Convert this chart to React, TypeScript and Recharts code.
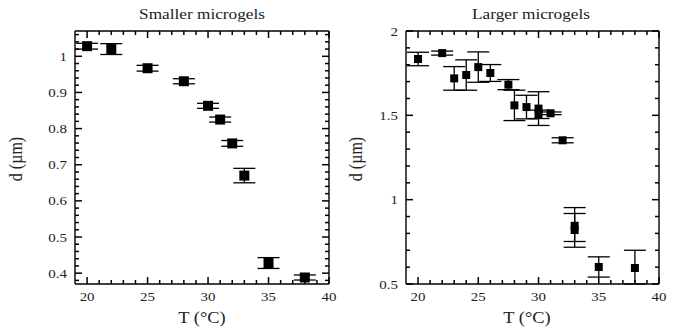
import React from "react";
import { ScatterChart, Scatter, XAxis, YAxis, ErrorBar } from "recharts";

// smaller microgels
const smallT = [20, 22, 25, 28, 30, 31, 32, 33, 35, 38];
const smallD = [1.028, 1.02, 0.967, 0.931, 0.863, 0.825, 0.759, 0.67, 0.428, 0.388];
const smallErr = [0.008, 0.015, 0.008, 0.007, 0.007, 0.007, 0.008, 0.02, 0.015, 0.007];

// larger microgels (two runs at 30 and 33 °C)
const largeT = [20, 22, 23, 24, 25, 26, 27.5, 28, 29, 30, 30, 31, 32, 33, 33, 35, 38];
const largeD = [1.834, 1.869, 1.719, 1.739, 1.786, 1.751, 1.682, 1.559, 1.549, 1.54, 1.506, 1.512, 1.352, 0.845, 0.82, 0.601, 0.595];
const largeErrLow = [0.04, 0.012, 0.07, 0.09, 0.09, 0.05, 0.03, 0.09, 0.07, 0.1, 0.025, 0.008, 0.015, 0.127, 0.068, 0.06, 0.095];
const largeErrHigh = [0.04, 0.012, 0.07, 0.09, 0.09, 0.05, 0.03, 0.09, 0.07, 0.1, 0.025, 0.008, 0.015, 0.108, 0.098, 0.06, 0.105];

const xMajor = [20, 25, 30, 35, 40];
const smallYMajor = [0.4, 0.5, 0.6, 0.7, 0.8, 0.9, 1];
const largeYMajor = [0.5, 1, 1.5, 2];

const steps = (a: number, b: number, s: number) => {
  const out: number[] = [];
  for (let v = a; v <= b + 1e-9; v += s) out.push(Math.round(v * 1000) / 1000);
  return out;
};
const xMinor = steps(20, 40, 1);
const smallYMinor = steps(0.38, 1.06, 0.02);
const largeYMinor = steps(0.5, 2, 0.1);

const smallData = smallT.map((t, i) => ({ t, d: smallD[i], err: smallErr[i] }));
const largeData = largeT.map((t, i) => ({ t, d: largeD[i], err: [largeErrLow[i], largeErrHigh[i]] }));

const FONT = "'Liberation Serif', 'Times New Roman', serif";
const SX = 1.15;

const isMajor = (v: number, majors: number[]) => majors.some((m) => Math.abs(m - v) < 1e-6);

// inward tick marks, long for majors; labels only on bottom/left majors
const makeTick = (side: string, majors: number[], labels: boolean) => (props: any) => {
  const { x, y, payload } = props;
  const v = payload.value;
  const major = isMajor(v, majors);
  const len = major ? 7 : 4;
  const st = { stroke: "#000", strokeWidth: 1.5 };
  let line;
  let label = null;
  if (side === "bottom") {
    line = <path d={`M${x},${y}L${x},${y - len}`} style={st} />;
    if (labels && major)
      label = (
        <text transform={`translate(${x},${y + 17}) scale(${SX},1)`} textAnchor="middle" fontSize={13} fontFamily={FONT} fill="#222">
          {v}
        </text>
      );
  } else if (side === "top") {
    line = <path d={`M${x},${y}L${x},${y + len}`} style={st} />;
  } else if (side === "left") {
    line = <path d={`M${x},${y}L${x + len},${y}`} style={st} />;
    if (labels && major)
      label = (
        <text transform={`translate(${x - 8},${y + 4.5}) scale(${SX},1)`} textAnchor="end" fontSize={13} fontFamily={FONT} fill="#222">
          {v}
        </text>
      );
  } else {
    line = <path d={`M${x},${y}L${x - len},${y}`} style={st} />;
  }
  return (
    <g>
      {line}
      {label}
    </g>
  );
};

const squareShape = (size: number) => (props: any) => (
  <rect x={props.cx - size / 2} y={props.cy - size / 2} width={size} height={size} fill="#000" />
);

const axisLine = { stroke: "#000", strokeWidth: 1.4 };

type PanelProps = {
  data: any[];
  yDomain: [number, number];
  yMajor: number[];
  yMinor: number[];
  margin: { top: number; right: number; bottom: number; left: number };
  size: number;
};

const Panel = ({ data, yDomain, yMajor, yMinor, margin, size }: PanelProps) => {
  return (
    <ScatterChart width={339} height={330} margin={margin}>
      <XAxis xAxisId="b" type="number" dataKey="t" domain={[19, 40]} ticks={xMinor} interval={0} allowDataOverflow
        height={1} tickSize={0} tickMargin={0} tickLine={false} axisLine={axisLine} tick={makeTick("bottom", xMajor, true)} />
      <XAxis xAxisId="top" orientation="top" type="number" dataKey="t" domain={[19, 40]} ticks={xMinor} interval={0} allowDataOverflow
        height={1} tickSize={0} tickMargin={0} tickLine={false} axisLine={axisLine} tick={makeTick("top", xMajor, false)} />
      <YAxis yAxisId="l" type="number" dataKey="d" domain={yDomain} ticks={yMinor} interval={0} allowDataOverflow
        width={1} tickSize={0} tickMargin={0} tickLine={false} axisLine={axisLine} tick={makeTick("left", yMajor, true)} />
      <YAxis yAxisId="r" orientation="right" type="number" dataKey="d" domain={yDomain} ticks={yMinor} interval={0} allowDataOverflow
        width={1} tickSize={0} tickMargin={0} tickLine={false} axisLine={axisLine} tick={makeTick("right", yMajor, false)} />
      <Scatter data={data} xAxisId="b" yAxisId="l" dataKey="d" shape={squareShape(size)} isAnimationActive={false}>
        <ErrorBar dataKey="err" direction="y" width={11} stroke="#000" strokeWidth={1.3} isAnimationActive={false} />
      </Scatter>
      <Scatter data={[]} xAxisId="top" yAxisId="r" dataKey="d" isAnimationActive={false} />
    </ScatterChart>
  );
};

const textStyle = { fontFamily: FONT, fill: "#222" };

export default function App() {
  return (
    <div style={{ position: "absolute", left: 0, top: 0, width: 678, height: 330, background: "#fff" }}>
      <div style={{ position: "absolute", left: 0, top: 0 }}>
        <Panel data={smallData} yDomain={[0.37, 1.07]} yMajor={smallYMajor} yMinor={smallYMinor}
          margin={{ top: 30, right: 9, bottom: 45, left: 74 }} size={10} />
      </div>
      <div style={{ position: "absolute", left: 339, top: 0 }}>
        <Panel data={largeData} yDomain={[0.5, 2]} yMajor={largeYMajor} yMinor={largeYMinor}
          margin={{ top: 30, right: 18, bottom: 45, left: 66 }} size={8} />
      </div>
      <svg width={678} height={330} style={{ position: "absolute", left: 0, top: 0, pointerEvents: "none" }}>
        <text transform={`translate(202,18.5) scale(${SX},1)`} textAnchor="middle" fontSize={15} {...textStyle}>Smaller microgels</text>
        <text transform={`translate(531,18.5) scale(${SX},1)`} textAnchor="middle" fontSize={15} {...textStyle}>Larger microgels</text>
        <text transform={`translate(202,323) scale(${SX},1)`} textAnchor="middle" fontSize={16} {...textStyle}>T (°C)</text>
        <text transform={`translate(527,323) scale(${SX},1)`} textAnchor="middle" fontSize={16} {...textStyle}>T (°C)</text>
        <text transform={`translate(22,159) rotate(-90) scale(1,${SX})`} textAnchor="middle" fontSize={16} {...textStyle}>d (µm)</text>
        <text transform={`translate(362,159) rotate(-90) scale(1,${SX})`} textAnchor="middle" fontSize={16} {...textStyle}>d (µm)</text>
      </svg>
    </div>
  );
}
